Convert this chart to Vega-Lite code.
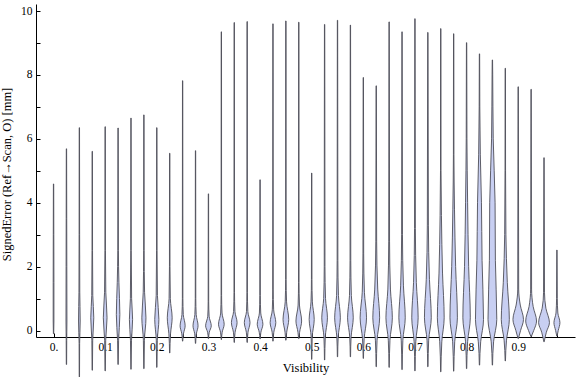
{
  "$schema": "https://vega.github.io/schema/vega-lite/v6.json",
  "width": 539,
  "height": 333,
  "autosize": {"type": "none"},
  "padding": {"left": 36, "top": 4, "right": 1, "bottom": 40},
  "background": "white",
  "config": {
    "view": {"stroke": null},
    "axis": {
      "domainColor": "black", "domainWidth": 1, "tickColor": "black", "tickWidth": 1,
      "labelFont": "Liberation Serif", "labelFontSize": 11.5, "labelColor": "black",
      "titleFont": "Liberation Serif", "titleFontSize": 12.5, "titleFontWeight": "normal", "titleColor": "black",
      "grid": false, "tickSize": -4
    }
  },
  "data": {"values": [
    {"v":0,"y":-0.1,"lo":-0.0003,"hi":0.0003},{"v":0,"y":0.3,"lo":-0.0007,"hi":0.0007},{"v":0,"y":1.5,"lo":-0.0007,"hi":0.0007},{"v":0,"y":3,"lo":-0.0005,"hi":0.0005},{"v":0,"y":4.59,"lo":-0.0003,"hi":0.0003},
    {"v":0.025,"y":-1.06,"lo":0.0247,"hi":0.0253},{"v":0.025,"y":-0.3,"lo":0.0245,"hi":0.0255},{"v":0.025,"y":0.3,"lo":0.0241,"hi":0.0259},{"v":0.025,"y":2.0,"lo":0.0243,"hi":0.0257},{"v":0.025,"y":3.5,"lo":0.0245,"hi":0.0255},{"v":0.025,"y":5.69,"lo":0.0247,"hi":0.0253},
    {"v":0.05,"y":-1.45,"lo":0.0497,"hi":0.0503},{"v":0.05,"y":-0.4,"lo":0.0495,"hi":0.0505},{"v":0.05,"y":0.3,"lo":0.0484,"hi":0.0516},{"v":0.05,"y":1.2,"lo":0.0492,"hi":0.0508},{"v":0.05,"y":3,"lo":0.0495,"hi":0.0505},{"v":0.05,"y":6.35,"lo":0.0497,"hi":0.0503},
    {"v":0.075,"y":-1.24,"lo":0.0747,"hi":0.0753},{"v":0.075,"y":-0.3,"lo":0.0742,"hi":0.0758},{"v":0.075,"y":0.4,"lo":0.0721,"hi":0.0779},{"v":0.075,"y":1.1,"lo":0.074,"hi":0.076},{"v":0.075,"y":2.5,"lo":0.0745,"hi":0.0755},{"v":0.075,"y":5.61,"lo":0.0747,"hi":0.0753},
    {"v":0.1,"y":-1.26,"lo":0.0997,"hi":0.1003},{"v":0.1,"y":-0.3,"lo":0.099,"hi":0.101},{"v":0.1,"y":0.4,"lo":0.0964,"hi":0.1036},{"v":0.1,"y":1.2,"lo":0.0988,"hi":0.1012},{"v":0.1,"y":2.5,"lo":0.0995,"hi":0.1005},{"v":0.1,"y":6.38,"lo":0.0997,"hi":0.1003},
    {"v":0.125,"y":-1.06,"lo":0.1247,"hi":0.1253},{"v":0.125,"y":-0.3,"lo":0.124,"hi":0.126},{"v":0.125,"y":0.5,"lo":0.1216,"hi":0.1284},{"v":0.125,"y":1.5,"lo":0.1234,"hi":0.1266},{"v":0.125,"y":2.5,"lo":0.1244,"hi":0.1256},{"v":0.125,"y":6.34,"lo":0.1247,"hi":0.1253},
    {"v":0.15,"y":-1.21,"lo":0.1497,"hi":0.1503},{"v":0.15,"y":-0.3,"lo":0.149,"hi":0.151},{"v":0.15,"y":0.35,"lo":0.1469,"hi":0.1531},{"v":0.15,"y":1.0,"lo":0.1488,"hi":0.1512},{"v":0.15,"y":2.5,"lo":0.1495,"hi":0.1505},{"v":0.15,"y":6.65,"lo":0.1497,"hi":0.1503},
    {"v":0.175,"y":-1.19,"lo":0.1747,"hi":0.1753},{"v":0.175,"y":-0.3,"lo":0.174,"hi":0.176},{"v":0.175,"y":0.4,"lo":0.171,"hi":0.179},{"v":0.175,"y":1.2,"lo":0.1737,"hi":0.1763},{"v":0.175,"y":2.5,"lo":0.1745,"hi":0.1755},{"v":0.175,"y":6.75,"lo":0.1747,"hi":0.1753},
    {"v":0.2,"y":-1.15,"lo":0.1997,"hi":0.2003},{"v":0.2,"y":-0.3,"lo":0.199,"hi":0.201},{"v":0.2,"y":0.35,"lo":0.196,"hi":0.204},{"v":0.2,"y":1.1,"lo":0.1988,"hi":0.2012},{"v":0.2,"y":2.5,"lo":0.1995,"hi":0.2005},{"v":0.2,"y":6.35,"lo":0.1997,"hi":0.2003},
    {"v":0.225,"y":-0.7,"lo":0.2247,"hi":0.2253},{"v":0.225,"y":-0.1,"lo":0.2234,"hi":0.2266},{"v":0.225,"y":0.4,"lo":0.2203,"hi":0.2297},{"v":0.225,"y":1.0,"lo":0.2238,"hi":0.2262},{"v":0.225,"y":2.0,"lo":0.2245,"hi":0.2255},{"v":0.225,"y":5.55,"lo":0.2247,"hi":0.2253},
    {"v":0.25,"y":-0.33,"lo":0.2497,"hi":0.2503},{"v":0.25,"y":-0.1,"lo":0.2484,"hi":0.2516},{"v":0.25,"y":0.15,"lo":0.2451,"hi":0.2549},{"v":0.25,"y":0.5,"lo":0.2487,"hi":0.2513},{"v":0.25,"y":1.0,"lo":0.2495,"hi":0.2505},{"v":0.25,"y":7.82,"lo":0.2497,"hi":0.2503},
    {"v":0.275,"y":-0.4,"lo":0.2747,"hi":0.2753},{"v":0.275,"y":-0.1,"lo":0.2734,"hi":0.2766},{"v":0.275,"y":0.15,"lo":0.2701,"hi":0.2799},{"v":0.275,"y":0.5,"lo":0.2737,"hi":0.2763},{"v":0.275,"y":1.0,"lo":0.2745,"hi":0.2755},{"v":0.275,"y":5.63,"lo":0.2747,"hi":0.2753},
    {"v":0.3,"y":-0.25,"lo":0.2997,"hi":0.3003},{"v":0.3,"y":-0.05,"lo":0.2984,"hi":0.3016},{"v":0.3,"y":0.15,"lo":0.2945,"hi":0.3055},{"v":0.3,"y":0.45,"lo":0.2987,"hi":0.3013},{"v":0.3,"y":0.9,"lo":0.2995,"hi":0.3005},{"v":0.3,"y":4.28,"lo":0.2997,"hi":0.3003},
    {"v":0.325,"y":-0.28,"lo":0.3247,"hi":0.3253},{"v":0.325,"y":-0.05,"lo":0.3234,"hi":0.3266},{"v":0.325,"y":0.2,"lo":0.3195,"hi":0.3305},{"v":0.325,"y":0.55,"lo":0.3237,"hi":0.3263},{"v":0.325,"y":1.1,"lo":0.3245,"hi":0.3255},{"v":0.325,"y":9.35,"lo":0.3247,"hi":0.3253},
    {"v":0.35,"y":-0.37,"lo":0.3497,"hi":0.3503},{"v":0.35,"y":-0.05,"lo":0.3484,"hi":0.3516},{"v":0.35,"y":0.25,"lo":0.3445,"hi":0.3555},{"v":0.35,"y":0.6,"lo":0.3487,"hi":0.3513},{"v":0.35,"y":1.2,"lo":0.3495,"hi":0.3505},{"v":0.35,"y":9.64,"lo":0.3497,"hi":0.3503},
    {"v":0.375,"y":-0.37,"lo":0.3747,"hi":0.3753},{"v":0.375,"y":-0.05,"lo":0.3734,"hi":0.3766},{"v":0.375,"y":0.25,"lo":0.3695,"hi":0.3805},{"v":0.375,"y":0.6,"lo":0.3737,"hi":0.3763},{"v":0.375,"y":1.2,"lo":0.3745,"hi":0.3755},{"v":0.375,"y":9.67,"lo":0.3747,"hi":0.3753},
    {"v":0.4,"y":-0.26,"lo":0.3997,"hi":0.4003},{"v":0.4,"y":-0.05,"lo":0.3984,"hi":0.4016},{"v":0.4,"y":0.2,"lo":0.3945,"hi":0.4055},{"v":0.4,"y":0.55,"lo":0.3987,"hi":0.4013},{"v":0.4,"y":1.1,"lo":0.3995,"hi":0.4005},{"v":0.4,"y":4.72,"lo":0.3997,"hi":0.4003},
    {"v":0.425,"y":-0.33,"lo":0.4247,"hi":0.4253},{"v":0.425,"y":-0.05,"lo":0.4234,"hi":0.4266},{"v":0.425,"y":0.25,"lo":0.4195,"hi":0.4305},{"v":0.425,"y":0.65,"lo":0.4237,"hi":0.4263},{"v":0.425,"y":1.3,"lo":0.4245,"hi":0.4255},{"v":0.425,"y":9.6,"lo":0.4247,"hi":0.4253},
    {"v":0.45,"y":-0.3,"lo":0.4497,"hi":0.4503},{"v":0.45,"y":-0.05,"lo":0.4484,"hi":0.4516},{"v":0.45,"y":0.35,"lo":0.4445,"hi":0.4555},{"v":0.45,"y":0.9,"lo":0.4487,"hi":0.4513},{"v":0.45,"y":1.6,"lo":0.4495,"hi":0.4505},{"v":0.45,"y":9.69,"lo":0.4497,"hi":0.4503},
    {"v":0.475,"y":-0.25,"lo":0.4747,"hi":0.4753},{"v":0.475,"y":-0.05,"lo":0.4734,"hi":0.4766},{"v":0.475,"y":0.3,"lo":0.4695,"hi":0.4805},{"v":0.475,"y":0.8,"lo":0.4737,"hi":0.4763},{"v":0.475,"y":1.5,"lo":0.4745,"hi":0.4755},{"v":0.475,"y":9.65,"lo":0.4747,"hi":0.4753},
    {"v":0.5,"y":-0.9,"lo":0.4997,"hi":0.5003},{"v":0.5,"y":-0.2,"lo":0.499,"hi":0.501},{"v":0.5,"y":0.35,"lo":0.4951,"hi":0.5049},{"v":0.5,"y":0.9,"lo":0.4987,"hi":0.5013},{"v":0.5,"y":1.6,"lo":0.4995,"hi":0.5005},{"v":0.5,"y":4.93,"lo":0.4997,"hi":0.5003},
    {"v":0.525,"y":-0.92,"lo":0.5247,"hi":0.5253},{"v":0.525,"y":-0.2,"lo":0.5237,"hi":0.5263},{"v":0.525,"y":0.4,"lo":0.5195,"hi":0.5305},{"v":0.525,"y":1.0,"lo":0.5232,"hi":0.5268},{"v":0.525,"y":2.0,"lo":0.5243,"hi":0.5257},{"v":0.525,"y":9.58,"lo":0.5247,"hi":0.5253},
    {"v":0.55,"y":-0.82,"lo":0.5497,"hi":0.5503},{"v":0.55,"y":-0.2,"lo":0.5487,"hi":0.5513},{"v":0.55,"y":0.4,"lo":0.5445,"hi":0.5555},{"v":0.55,"y":1.1,"lo":0.5482,"hi":0.5518},{"v":0.55,"y":2.2,"lo":0.5493,"hi":0.5507},{"v":0.55,"y":9.71,"lo":0.5497,"hi":0.5503},
    {"v":0.575,"y":-0.82,"lo":0.5747,"hi":0.5753},{"v":0.575,"y":-0.2,"lo":0.5737,"hi":0.5763},{"v":0.575,"y":0.4,"lo":0.5695,"hi":0.5805},{"v":0.575,"y":1.1,"lo":0.5732,"hi":0.5768},{"v":0.575,"y":2.2,"lo":0.5743,"hi":0.5757},{"v":0.575,"y":9.56,"lo":0.5747,"hi":0.5753},
    {"v":0.6,"y":-0.87,"lo":0.5997,"hi":0.6003},{"v":0.6,"y":-0.25,"lo":0.5984,"hi":0.6016},{"v":0.6,"y":0.4,"lo":0.5938,"hi":0.6062},{"v":0.6,"y":1.2,"lo":0.5979,"hi":0.6021},{"v":0.6,"y":2.4,"lo":0.5993,"hi":0.6007},{"v":0.6,"y":7.92,"lo":0.5997,"hi":0.6003},
    {"v":0.625,"y":-1.13,"lo":0.6247,"hi":0.6253},{"v":0.625,"y":-0.3,"lo":0.6234,"hi":0.6266},{"v":0.625,"y":0.4,"lo":0.6184,"hi":0.6316},{"v":0.625,"y":1.3,"lo":0.6221,"hi":0.6279},{"v":0.625,"y":2.8,"lo":0.6242,"hi":0.6258},{"v":0.625,"y":7.66,"lo":0.6247,"hi":0.6253},
    {"v":0.65,"y":-1.15,"lo":0.6497,"hi":0.6503},{"v":0.65,"y":-0.3,"lo":0.6484,"hi":0.6516},{"v":0.65,"y":0.4,"lo":0.6438,"hi":0.6562},{"v":0.65,"y":1.3,"lo":0.6475,"hi":0.6525},{"v":0.65,"y":2.8,"lo":0.6492,"hi":0.6508},{"v":0.65,"y":9.66,"lo":0.6497,"hi":0.6503},
    {"v":0.675,"y":-1.22,"lo":0.6747,"hi":0.6753},{"v":0.675,"y":-0.3,"lo":0.6734,"hi":0.6766},{"v":0.675,"y":0.4,"lo":0.6688,"hi":0.6812},{"v":0.675,"y":1.4,"lo":0.6723,"hi":0.6777},{"v":0.675,"y":3.0,"lo":0.6742,"hi":0.6758},{"v":0.675,"y":9.35,"lo":0.6747,"hi":0.6753},
    {"v":0.7,"y":-1.26,"lo":0.6997,"hi":0.7003},{"v":0.7,"y":-0.35,"lo":0.6984,"hi":0.7016},{"v":0.7,"y":0.4,"lo":0.6938,"hi":0.7062},{"v":0.7,"y":1.5,"lo":0.6973,"hi":0.7027},{"v":0.7,"y":3.2,"lo":0.6992,"hi":0.7008},{"v":0.7,"y":9.76,"lo":0.6997,"hi":0.7003},
    {"v":0.725,"y":-1.13,"lo":0.7247,"hi":0.7253},{"v":0.725,"y":-0.3,"lo":0.7234,"hi":0.7266},{"v":0.725,"y":0.4,"lo":0.7184,"hi":0.7316},{"v":0.725,"y":1.6,"lo":0.7219,"hi":0.7281},{"v":0.725,"y":3.3,"lo":0.724,"hi":0.726},{"v":0.725,"y":9.33,"lo":0.7247,"hi":0.7253},
    {"v":0.75,"y":-1.29,"lo":0.7497,"hi":0.7503},{"v":0.75,"y":-0.35,"lo":0.748,"hi":0.752},{"v":0.75,"y":0.4,"lo":0.7434,"hi":0.7566},{"v":0.75,"y":1.8,"lo":0.7466,"hi":0.7534},{"v":0.75,"y":3.6,"lo":0.7487,"hi":0.7513},{"v":0.75,"y":5.0,"lo":0.7495,"hi":0.7505},{"v":0.75,"y":9.45,"lo":0.7497,"hi":0.7503},
    {"v":0.775,"y":-1.27,"lo":0.7747,"hi":0.7753},{"v":0.775,"y":-0.35,"lo":0.773,"hi":0.777},{"v":0.775,"y":0.4,"lo":0.7678,"hi":0.7822},{"v":0.775,"y":2.0,"lo":0.7712,"hi":0.7788},{"v":0.775,"y":3.8,"lo":0.7734,"hi":0.7766},{"v":0.775,"y":5.5,"lo":0.7745,"hi":0.7755},{"v":0.775,"y":9.29,"lo":0.7747,"hi":0.7753},
    {"v":0.8,"y":-1.19,"lo":0.7997,"hi":0.8003},{"v":0.8,"y":-0.35,"lo":0.798,"hi":0.802},{"v":0.8,"y":0.4,"lo":0.7928,"hi":0.8072},{"v":0.8,"y":2.0,"lo":0.796,"hi":0.804},{"v":0.8,"y":4.0,"lo":0.798,"hi":0.802},{"v":0.8,"y":6.0,"lo":0.7993,"hi":0.8007},{"v":0.8,"y":9.01,"lo":0.7997,"hi":0.8003},
    {"v":0.825,"y":-1.08,"lo":0.8247,"hi":0.8253},{"v":0.825,"y":-0.35,"lo":0.8227,"hi":0.8273},{"v":0.825,"y":0.35,"lo":0.8172,"hi":0.8328},{"v":0.825,"y":2.2,"lo":0.82,"hi":0.83},{"v":0.825,"y":4.0,"lo":0.8212,"hi":0.8288},{"v":0.825,"y":5.5,"lo":0.8234,"hi":0.8266},{"v":0.825,"y":7.0,"lo":0.8244,"hi":0.8256},{"v":0.825,"y":8.66,"lo":0.8247,"hi":0.8253},
    {"v":0.85,"y":-1.08,"lo":0.8497,"hi":0.8503},{"v":0.85,"y":-0.35,"lo":0.8477,"hi":0.8523},{"v":0.85,"y":0.35,"lo":0.8415,"hi":0.8585},{"v":0.85,"y":2.2,"lo":0.8442,"hi":0.8558},{"v":0.85,"y":4.0,"lo":0.8448,"hi":0.8552},{"v":0.85,"y":6.0,"lo":0.8484,"hi":0.8516},{"v":0.85,"y":8.0,"lo":0.8494,"hi":0.8506},{"v":0.85,"y":8.47,"lo":0.8497,"hi":0.8503},
    {"v":0.875,"y":-0.95,"lo":0.8747,"hi":0.8753},{"v":0.875,"y":-0.3,"lo":0.8727,"hi":0.8773},{"v":0.875,"y":0.35,"lo":0.8672,"hi":0.8828},{"v":0.875,"y":1.5,"lo":0.8711,"hi":0.8789},{"v":0.875,"y":3.0,"lo":0.8738,"hi":0.8762},{"v":0.875,"y":5.0,"lo":0.8745,"hi":0.8755},{"v":0.875,"y":8.21,"lo":0.8747,"hi":0.8753},
    {"v":0.9,"y":-0.25,"lo":0.8997,"hi":0.9003},{"v":0.9,"y":0.0,"lo":0.8955,"hi":0.9045},{"v":0.9,"y":0.35,"lo":0.8898,"hi":0.9102},{"v":0.9,"y":0.8,"lo":0.896,"hi":0.904},{"v":0.9,"y":1.3,"lo":0.8991,"hi":0.9009},{"v":0.9,"y":7.63,"lo":0.8997,"hi":0.9003},
    {"v":0.925,"y":-0.19,"lo":0.9247,"hi":0.9253},{"v":0.925,"y":0.0,"lo":0.92,"hi":0.93},{"v":0.925,"y":0.3,"lo":0.9145,"hi":0.9355},{"v":0.925,"y":0.75,"lo":0.921,"hi":0.929},{"v":0.925,"y":1.3,"lo":0.9241,"hi":0.9259},{"v":0.925,"y":7.55,"lo":0.9247,"hi":0.9253},
    {"v":0.95,"y":-0.35,"lo":0.9497,"hi":0.9503},{"v":0.95,"y":-0.05,"lo":0.9455,"hi":0.9545},{"v":0.95,"y":0.25,"lo":0.9395,"hi":0.9605},{"v":0.95,"y":0.7,"lo":0.9464,"hi":0.9536},{"v":0.95,"y":1.2,"lo":0.9491,"hi":0.9509},{"v":0.95,"y":5.41,"lo":0.9497,"hi":0.9503},
    {"v":0.975,"y":-0.17,"lo":0.9747,"hi":0.9753},{"v":0.975,"y":0.0,"lo":0.9725,"hi":0.9775},{"v":0.975,"y":0.25,"lo":0.9692,"hi":0.9808},{"v":0.975,"y":0.55,"lo":0.9732,"hi":0.9768},{"v":0.975,"y":1.0,"lo":0.9743,"hi":0.9757},{"v":0.975,"y":2.52,"lo":0.9747,"hi":0.9753}
  ]},
  "mark": {"type": "area", "orient": "horizontal", "interpolate": "monotone", "fill": "#c8cff2", "stroke": "#4e4e58", "strokeWidth": 0.9, "clip": false},
  "encoding": {
    "detail": {"field": "v", "type": "nominal"},
    "y": {
      "field": "y", "type": "quantitative",
      "scale": {"domain": [-0.2, 10.22], "nice": false, "zero": false},
      "axis": {
        "title": "SignedError (Ref→Scan, O) [mm]",
        "values": [0,0.5,1,1.5,2,2.5,3,3.5,4,4.5,5,5.5,6,6.5,7,7.5,8,8.5,9,9.5,10],
        "format": "d",
        "labelExpr": "datum.value % 2 == 0 ? datum.label : ''",
        "labelPadding": 8, "titleX": -22.5, "titleY": 170
      }
    },
    "x": {
      "field": "lo", "type": "quantitative",
      "scale": {"domain": [-0.034, 1.01], "nice": false, "zero": false},
      "axis": {
        "title": "Visibility",
        "values": [0,0.025,0.05,0.075,0.1,0.125,0.15,0.175,0.2,0.225,0.25,0.275,0.3,0.325,0.35,0.375,0.4,0.425,0.45,0.475,0.5,0.525,0.55,0.575,0.6,0.625,0.65,0.675,0.7,0.725,0.75,0.775,0.8,0.825,0.85,0.875,0.9,0.925,0.95,0.975],
        "labelExpr": "datum.value == 0 ? '0.' : (round(datum.value * 40) % 4 == 0 ? format(datum.value, '.1f') : '')",
        "labelPadding": 8, "titlePadding": 9, "labelFlush": false
      }
    },
    "x2": {"field": "hi"}
  }
}
